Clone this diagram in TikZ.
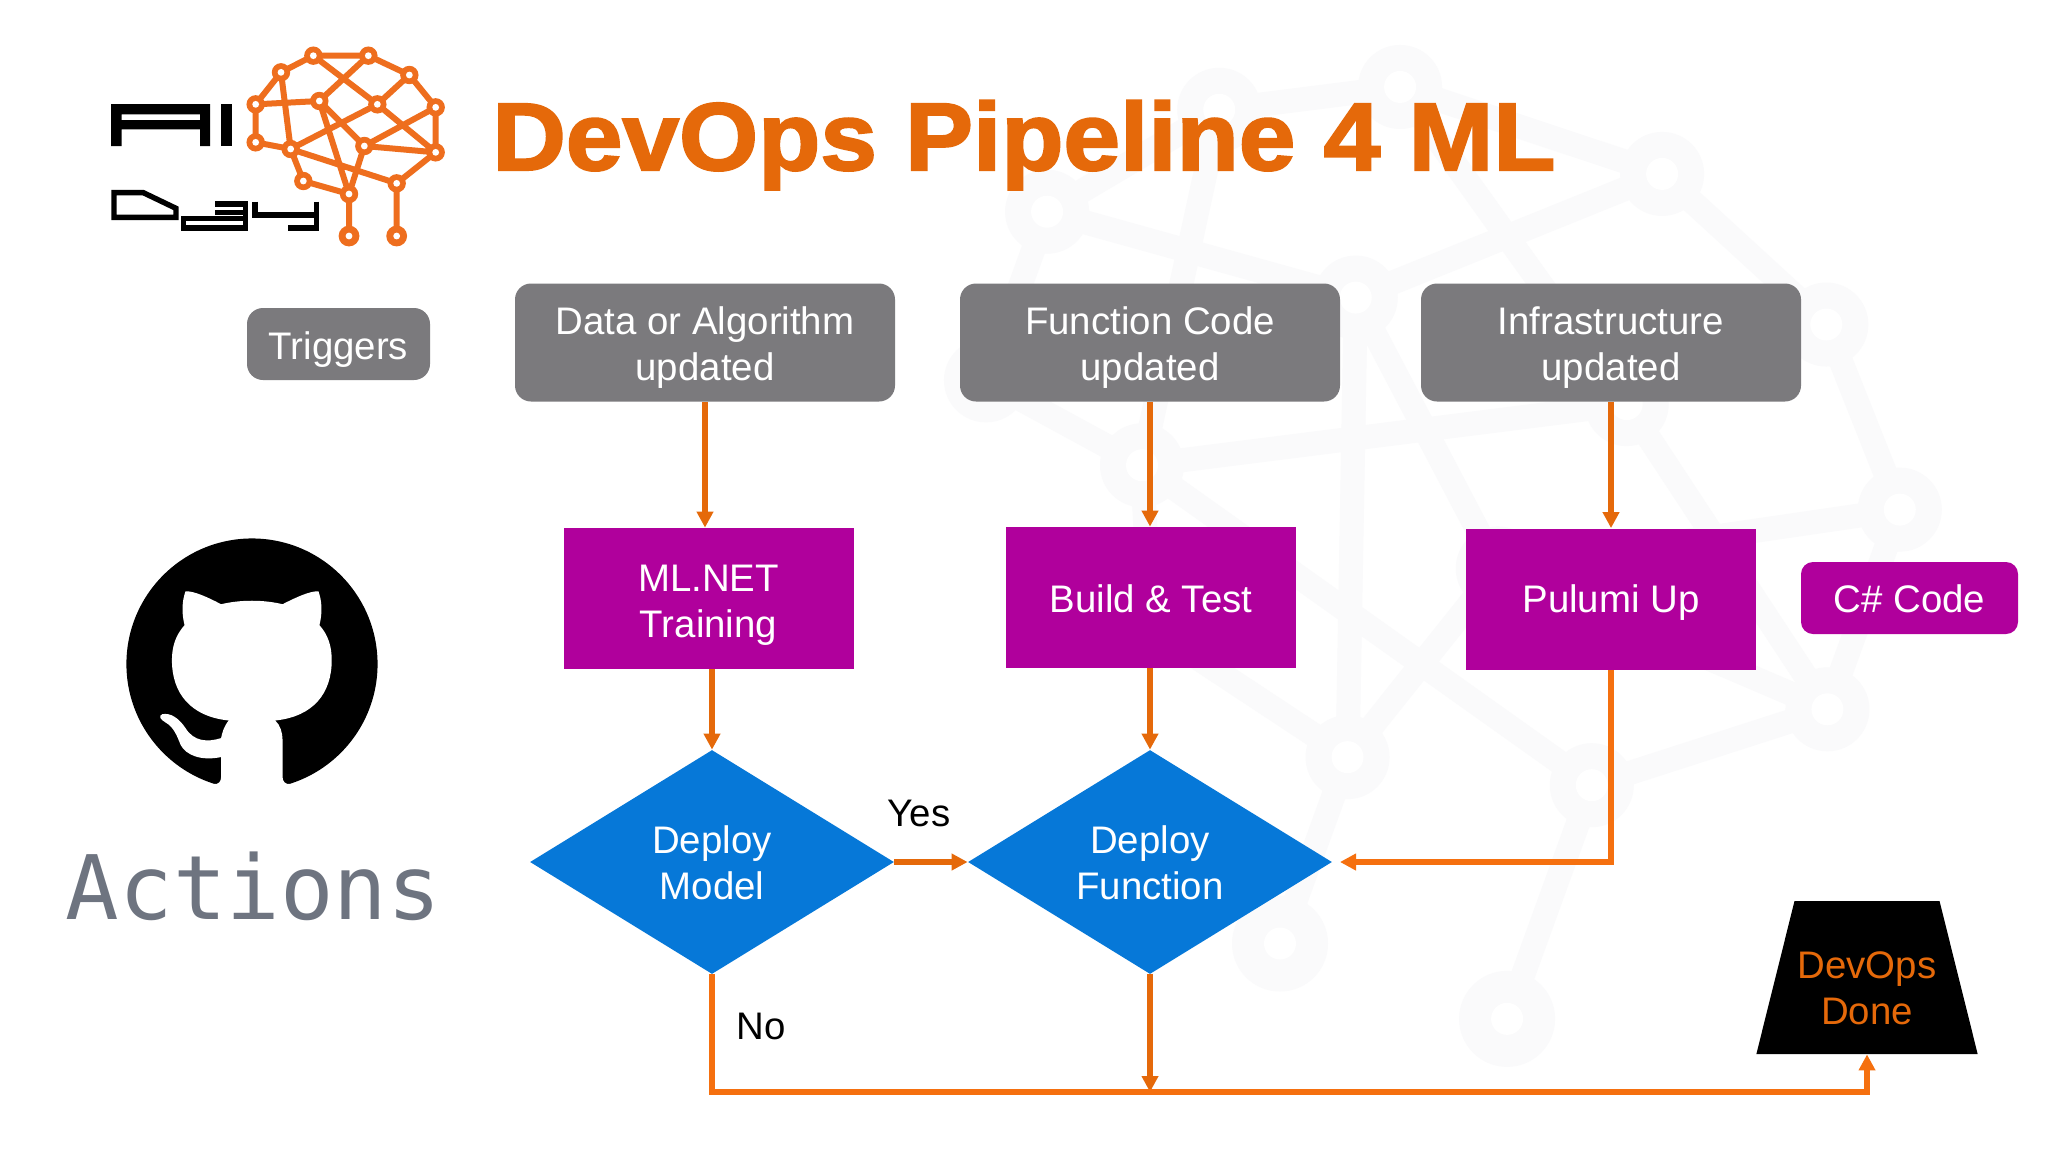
\documentclass[tikz,border=0pt]{standalone}
\usepackage{fontspec}
\setmainfont{Liberation Sans}
\newfontfamily\monofam{DejaVu Sans Mono}
\newfontfamily\heavyfam{Liberation Sans}[UprightFont=* Bold,FakeBold=2.2,FakeStretch=1.06]
\usetikzlibrary{shapes.geometric,arrows.meta}
\definecolor{pgray}{HTML}{7B7A7D}
\definecolor{pmag}{HTML}{B0009C}
\definecolor{pblue}{HTML}{0678D8}
\definecolor{porange}{HTML}{E5690A}
\definecolor{pbright}{HTML}{F5700F}
\definecolor{plogo}{HTML}{EE6E1E}
\definecolor{pmark}{HTML}{FAFAFB}
\definecolor{pact}{HTML}{6E7480}
\newcommand{\dn}[1]{\rule{0pt}{#1}}
\tikzset{
  txt/.style={font=\fontsize{19.2pt}{23pt}\selectfont,align=center,inner sep=0pt},
  trigger/.style={txt,rounded corners=8pt,fill=pgray,text=white,minimum width=190pt,minimum height=59pt},
  proc/.style={txt,fill=pmag,text=white,minimum width=145pt,minimum height=70.5pt},
  decide/.style={txt,diamond,fill=pblue,text=white,minimum width=182pt,minimum height=112pt,aspect=1.6},
  flow/.style={draw=porange,line width=2.6pt,-{Triangle[length=8pt,width=8pt]}},
  brightflow/.style={flow,draw=pbright},
  lab/.style={font=\fontsize{19.2pt}{23pt}\selectfont,inner sep=0pt,text=black},
}
\newcommand{\brainnet}[5]{% line width, ring radius, hole radius, big ring radius, colour
  \foreach \nm/\a/\b in {n1/700/107,n2/865/107,n3/603/157,n4/988/165,n5/527/253,n6/718/243,n7/892/253,n8/1067/262,n9/527/367,n10/632/387,n11/853/378,n12/1067/397,n13/670/483,n14/950/490,n15/807/522,n16/807/648,n17/950/648}
    {\coordinate (\nm) at (\a,\b);}
  \draw[#5,line width=#1,line join=round]
    (n3)--(n1)--(n2)--(n4)--(n8)--(n12)--(n14)--(n17)
    (n3)--(n5)--(n9)--(n10)--(n13)--(n15)--(n16)
    (n5)--(n6)--(n2) (n1)--(n7)--(n4) (n7)--(n12) (n7)--(n10) (n3)--(n10)
    (n6)--(n15) (n10)--(n14) (n11)--(n15) (n11)--(n8) (n11)--(n12) (n6)--(n11);
  \foreach \nm in {n1,n2,n3,n4,n5,n6,n7,n8,n9,n10,n11,n12,n13,n14,n15}
    {\fill[#5] (\nm) circle[radius=#2]; \fill[white] (\nm) circle[radius=#3];}
  \foreach \nm in {n16,n17}
    {\fill[#5] (\nm) circle[radius=#4]; \fill[white] (\nm) circle[radius=#3];}
}
\begin{document}
\begin{tikzpicture}[x=0.5pt,y=-0.5pt]
\useasboundingbox (0,0) rectangle (2048,1152);
\fill[white] (0,0) rectangle (2048,1152);
% watermark
\begin{scope}[shift={(345.8,-440.2)},x={(0.794pt,-0.2635pt)},y={(-0.268pt,-0.7395pt)}]
  \brainnet{12pt}{21pt}{8pt}{24pt}{pmark}
\end{scope}
% logo brain
\begin{scope}[shift={(80,20)},x={(0.16667pt,0pt)},y={(0pt,-0.16667pt)}]
  \brainnet{3pt}{4.6pt}{1.7pt}{5.2pt}{plogo}
  % AI
  \fill[black,even odd rule] (93,252)--(390,252)--(390,378)--(360,378)--(360,328)--(125,328)--(125,378)--(93,378)--cycle
     (125,283)--(360,283)--(360,300)--(125,300)--cycle;
  \fill[black] (423,252) rectangle (455,378);
  % Day
  \draw[black,line width=2.7pt,miter limit=4]
    (102,518)--(190,518)--(288,565)--(288,592)--(102,592)--cycle;
  \draw[black,line width=2.7pt]
    (405,552)--(497,552)--(497,624)--(310,624)--(310,595)--(497,595)
    (405,578)--(497,578)
    (525,545)--(525,585)--(710,585) (710,545)--(710,624)--(625,624);
\end{scope}
% github mark
\begin{scope}[shift={(51,520.5)},x={(0.1661pt,0pt)},y={(0pt,-0.1661pt)}]
  \fill[black] (605,432) circle[radius=378];
  \fill[white] (512,252) .. controls (470,230) and (430,212) .. (405,213)
    .. controls (395,240) and (392,275) .. (402,315)
    .. controls (375,345) and (364,380) .. (364,420)
    .. controls (364,520) and (420,590) .. (535,602)
    .. controls (520,620) and (515,640) .. (512,655)
    .. controls (470,668) and (430,665) .. (405,625)
    .. controls (385,595) and (360,578) .. (335,583)
    .. controls (322,588) and (330,600) .. (345,608)
    .. controls (370,622) and (380,650) .. (390,675)
    .. controls (405,705) and (450,725) .. (512,712)
    -- (512,772) .. controls (512,785) and (505,795) .. (490,793)
    -- (490,840) -- (720,840) -- (720,793)
    .. controls (705,795) and (697,785) .. (697,772)
    -- (697,660) .. controls (697,640) and (690,615) .. (675,602)
    .. controls (790,590) and (845,520) .. (845,420)
    .. controls (845,380) and (835,345) .. (808,315)
    .. controls (818,275) and (815,240) .. (805,213)
    .. controls (780,212) and (740,230) .. (697,252)
    .. controls (640,238) and (570,238) .. (512,252) -- cycle;
\end{scope}
\node[anchor=base,inner sep=0pt,text=pact,font=\monofam\fontsize{44.5pt}{50pt}\selectfont] (actions) at (253.5,919) {Actions};
% title
\node[anchor=base west,inner sep=0pt,text=porange,font=\heavyfam\fontsize{48pt}{54pt}\selectfont] (title) at (492,170) {DevOps Pipeline 4 ML};
% nodes
\node[trigger,minimum width=91.5pt,minimum height=36pt] (trig) at (338.5,344) {\dn{19pt}Triggers};
\node[trigger] (data) at (705,342.5) {\dn{19pt}Data or Algorithm\\updated};
\node[trigger] (func) at (1150,342.5) {\dn{19pt}Function Code\\updated};
\node[trigger] (infra) at (1611,342.5) {\dn{19pt}Infrastructure\\updated};
\node[proc] (ml) at (708.5,598.5) {\dn{20pt}ML.NET\\Training};
\node[proc] (build) at (1151,597.5) {\dn{15pt}Build \& Test};
\node[proc] (pulumi) at (1611,599) {\dn{17.8pt}Pulumi Up};
\node[proc,rounded corners=6pt,minimum width=108.5pt,minimum height=36pt] (cs) at (1909.5,598) {\dn{15pt}C\# Code};
\node[decide] (dm) at (712,862) {\dn{15pt}Deploy\\Model};
\node[decide] (df) at (1150,862) {\dn{15pt}Deploy\\Function};
\node[txt,trapezium,trapezium left angle=76,trapezium right angle=76,fill=black,text=porange] (done) at (1867,977.5) {\parbox[c][76.5pt][c]{72.5pt}{\centering\dn{24pt}DevOps\\Done}};
\node[lab] (yes) at (919,813) {Yes};
\node[lab] (no) at (761,1026) {No};
\coordinate (corner) at (712,1092);
\coordinate (join) at (1150,1092);
\coordinate (dfin) at (1340,862);
% connectors
\draw[flow] (data.south) -- (data.south |- ml.north);
\draw[flow] (func.south) -- (func.south |- build.north);
\draw[flow] (infra.south) -- (pulumi.north);
\draw[flow] (ml.south -| dm.north) -- (dm.north);
\draw[flow] (build.south -| df.north) -- (df.north);
\draw[flow] (dm.east) -- (df.west);
\draw[brightflow] (pulumi.south) |- (dfin);
\draw[flow] (df.south) -- (join);
\draw[brightflow] (dm.south) -- (corner) -| (done.south);
\end{tikzpicture}
\end{document}
